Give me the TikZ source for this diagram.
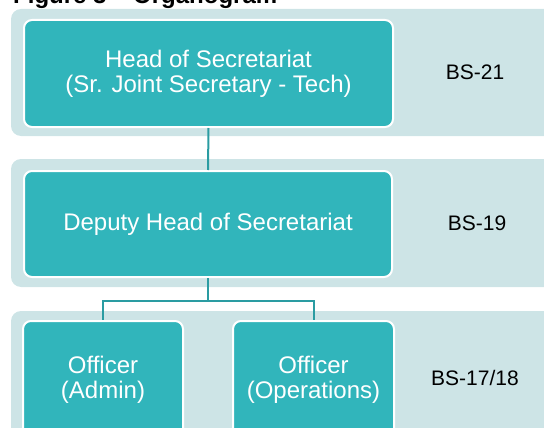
\documentclass[tikz,border=0pt]{standalone}
\usepackage{fontspec}
\setmainfont{Liberation Sans}
\definecolor{bandgray}{HTML}{CDE4E6}
\definecolor{boxteal}{HTML}{31B5BB}
\definecolor{linkteal}{HTML}{2A9CA2}
\begin{document}
\begin{tikzpicture}[x=1pt, y=-1pt,
    band/.style={fill=bandgray, rounded corners=10pt},
    post/.style={draw=white, line width=2pt, fill=boxteal, rounded corners=8pt,
      text=white, align=center, font=\fontsize{24}{25}\selectfont, inner sep=0pt},
    grade/.style={font=\fontsize{21}{24}\selectfont},
    link/.style={draw=linkteal, line width=2pt}]
    \useasboundingbox (0,0) rectangle (544,428);
    \clip (0,0) rectangle (544,428);

    % Caption, cut off at the top
    \node[anchor=base west, inner sep=0pt, font=\fontsize{24}{26}\bfseries] (caption) at (13,4) {Figure 3 -- Organogram};

    % Grade bands
    \fill[band] (11,9) rectangle (570,136);
    \fill[band] (11,159) rectangle (570,287);
    \fill[band] (11,311) rectangle (570,460);

    % Posts
    \node[post, minimum width=369pt, minimum height=107pt] (head) at (208.5,73.5)
      {Head of Secretariat\\(Sr. Joint Secretary - Tech)};
    \node[post, minimum width=368pt, minimum height=106pt] (deputy) at (208,224)
      {Deputy Head of Secretariat};
    \node[post, minimum width=160pt, minimum height=117pt] (admin) at (103,379.5)
      {Officer\\(Admin)};
    \node[post, minimum width=161pt, minimum height=117pt] (ops) at (313.5,379.5)
      {Officer\\(Operations)};

    % Grades
    \node[grade] (bs21) at (475,72) {BS-21};
    \node[grade] (bs19) at (477,223) {BS-19};
    \node[grade] (bs17) at (475,378) {BS-17/18};

    % Reporting lines
    \coordinate (split) at (208,301);
    \draw[link] (head.south) -- (deputy.north);
    \draw[link] (deputy.south) -- (split);
    \draw[link] (split) -| (admin.north);
    \draw[link] (split) -| (ops.north);
  \end{tikzpicture}
\end{document}
